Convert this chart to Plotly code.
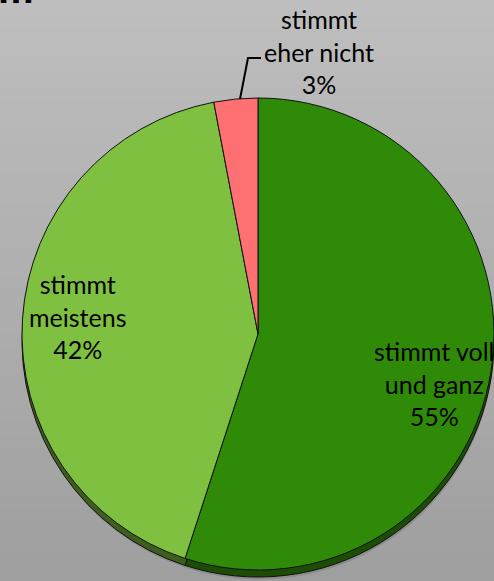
import plotly.graph_objects as go

# ---- data ----
labels = ["stimmt voll und ganz", "stimmt meistens", "stimmt eher nicht"]
label_text = ["stimmt voll<br>und ganz", "stimmt<br>meistens", "stimmt<br>eher nicht"]
values = [55, 42, 3]

top_colors = ["#2f8b07", "#80c040", "#fe7071"]
side_colors = ["#1c4d04", "#3e5e1f", "#8a3a3a"]

W, H = 494, 581


def px(x):
    return x / W


def py(y):
    return 1 - y / H


fig = go.Figure()

# soft shadow
fig.add_trace(go.Pie(
    values=values, labels=labels, sort=False, direction="clockwise", rotation=0,
    marker=dict(colors=["rgba(70,70,70,0.22)"] * 3, line=dict(width=0)),
    textinfo="none", hoverinfo="skip", showlegend=False,
    domain=dict(x=[px(24), px(494)], y=[0.0, py(108)]),
))
# side (3D thickness)
fig.add_trace(go.Pie(
    values=values, labels=labels, sort=False, direction="clockwise", rotation=0,
    marker=dict(colors=side_colors, line=dict(color="#111", width=1)),
    textinfo="none", hoverinfo="skip", showlegend=False,
    domain=dict(x=[px(22), px(494)], y=[py(577), py(105)]),
))
# top surface
fig.add_trace(go.Pie(
    values=values, labels=labels, sort=False, direction="clockwise", rotation=0,
    marker=dict(colors=top_colors, line=dict(color="#111", width=1)),
    textinfo="none", hoverinfo="label+percent", showlegend=False,
    domain=dict(x=[px(22), px(494)], y=[py(570), py(98)]),
))

# background gradient strips
n = 40
c0, c1 = 0xbe, 0x9f
shapes = []
for i in range(n):
    c = round(c0 + (c1 - c0) * i / (n - 1))
    shapes.append(dict(type="rect", xref="paper", yref="paper", layer="below",
                       x0=0, x1=1, y0=1 - (i + 1) / n, y1=1 - i / n + 0.001,
                       fillcolor=f"rgb({c},{c},{c})", line=dict(width=0)))

# leader line for small slice
shapes.append(dict(type="path", xref="paper", yref="paper", layer="above",
                   path=f"M {px(240)} {py(99)} L {px(248)} {py(58)} L {px(261)} {py(58)}",
                   line=dict(color="#000", width=2)))

total = sum(values)
pos = [(434, 383), (77, 316), (319, 51)]
annotations = []
for t, v, (x, y) in zip(label_text, values, pos):
    annotations.append(dict(
        x=px(x), y=py(y), xref="paper", yref="paper", xanchor="center", yanchor="middle",
        text=f"{t}<br>{round(100 * v / total)}%", showarrow=False, align="center",
        font=dict(family="Lato, Carlito, sans-serif", size=25, color="#000"),
    ))

# cut-off title fragment at top-left
annotations.append(dict(
    x=0, y=1, xref="paper", yref="paper", xanchor="left", yanchor="bottom",
    text="<b>m</b>", showarrow=False, yshift=-13, xshift=-4,
    font=dict(family="Liberation Sans, Arial, sans-serif", size=40, color="#000"),
))

fig.update_layout(
    width=W, height=H, margin=dict(l=0, r=0, t=0, b=0),
    paper_bgcolor="#b0b0b0", plot_bgcolor="#b0b0b0",
    shapes=shapes, annotations=annotations, showlegend=False,
)

fig.write_html("out.html", config={"displayModeBar": False},
               post_script="document.body.style.margin='0';document.body.style.overflow='hidden';")
